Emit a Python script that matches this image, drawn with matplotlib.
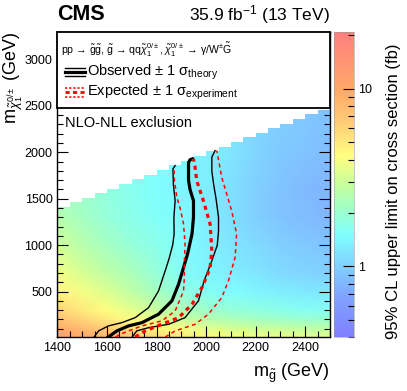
import numpy as np
import matplotlib.pyplot as plt
from matplotlib.colors import LinearSegmentedColormap, LogNorm
from matplotlib.patches import Polygon, Rectangle
from matplotlib.lines import Line2D
from matplotlib.ticker import MultipleLocator, FixedLocator

plt.rcParams['font.family'] = 'Liberation Sans'
plt.rcParams['mathtext.fontset'] = 'custom'
plt.rcParams['mathtext.rm'] = 'Liberation Sans'
plt.rcParams['mathtext.it'] = 'Liberation Sans:italic'
plt.rcParams['mathtext.bf'] = 'Liberation Sans:bold'

# limit map (fb)
m_gluino = np.array([1400, 1500, 1600, 1700, 1800, 1900, 2000, 2100, 2200, 2300, 2400, 2500])
m_chi = np.array([0, 100, 200, 300, 500, 700, 1000, 1300, 1600, 2000, 2500])
xsec_limit = np.array([
    [12.0, 10.0, 8.5, 7.0, 6.0, 5.0, 4.5, 4.2, 4.0, 3.8, 3.6, 3.5],
    [9.5, 8.0, 6.5, 5.5, 4.5, 4.0, 3.5, 3.2, 3.0, 2.9, 2.8, 2.7],
    [7.5, 6.0, 5.0, 4.2, 3.5, 3.0, 2.6, 2.4, 2.2, 2.1, 2.0, 2.0],
    [6.0, 5.0, 4.2, 3.5, 2.9, 2.4, 2.1, 1.9, 1.8, 1.7, 1.6, 1.6],
    [4.6, 3.9, 3.3, 2.7, 2.2, 1.8, 1.6, 1.5, 1.4, 1.3, 1.25, 1.2],
    [3.9, 3.2, 2.7, 2.3, 1.9, 1.6, 1.4, 1.3, 1.2, 1.1, 1.05, 1.0],
    [3.1, 2.6, 2.2, 1.9, 1.7, 1.5, 1.35, 1.2, 1.1, 1.0, 0.95, 0.9],
    [2.5, 2.2, 1.9, 1.7, 1.55, 1.45, 1.3, 1.15, 1.0, 0.9, 0.85, 0.8],
    [2.2, 2.0, 1.8, 1.65, 1.5, 1.4, 1.3, 1.15, 1.0, 0.9, 0.82, 0.8],
    [2.2, 2.0, 1.8, 1.6, 1.5, 1.4, 1.3, 1.2, 1.05, 0.95, 0.9, 0.85],
    [2.2, 2.0, 1.8, 1.6, 1.5, 1.4, 1.3, 1.2, 1.1, 1.0, 0.95, 0.9],
])
bin_width = 50
diag_offset = 10

# exclusion contours (m_gluino, m_chi)
obs_x = [1605, 1640, 1687, 1741, 1808, 1862, 1889, 1905, 1925, 1943, 1949, 1949, 1935, 1929, 1929, 1935, 1945]
obs_y = [10, 76, 130, 165, 256, 400, 580, 724, 904, 1120, 1300, 1479, 1600, 1700, 1890, 1920, 1930]
obs_m1_x = [1548, 1566, 1606, 1660, 1714, 1768, 1808, 1835, 1850, 1865, 1871, 1870, 1875, 1868, 1866, 1875]
obs_m1_y = [10, 76, 130, 165, 219, 327, 507, 724, 850, 1000, 1120, 1300, 1479, 1650, 1821, 1857]
obs_p1_x = [1702, 1720, 1768, 1849, 1915, 1969, 1992, 2023, 2045, 2050, 2050, 2040, 2030, 2023, 2023, 2036]
obs_p1_y = [10, 76, 111, 148, 219, 400, 615, 832, 1000, 1150, 1299, 1500, 1659, 1800, 1948, 2019]
exp_x = [1714, 1754, 1821, 1889, 1943, 1983, 2005, 2016, 2023, 2016, 1989, 1962, 1955, 1949]
exp_y = [10, 76, 148, 219, 363, 543, 680, 759, 940, 1227, 1479, 1695, 1850, 1930]
exp_m1_x = [1635, 1653, 1687, 1741, 1821, 1875, 1909, 1912, 1912, 1915, 1909, 1895, 1882, 1872, 1870]
exp_m1_y = [10, 40, 76, 130, 184, 291, 507, 650, 796, 1011, 1227, 1400, 1515, 1700, 1840]
exp_p1_x = [1835, 1875, 1956, 2009, 2063, 2090, 2117, 2123, 2103, 2063, 2043]
exp_p1_y = [10, 76, 148, 256, 435, 615, 868, 1120, 1371, 1731, 2019]

# palette anchors (value, colour)
pal_vals = [0.4, 0.65, 1.0, 1.5, 2.1, 3.0, 4.2, 6.5, 10.0, 21.0]
pal_cols = ['#8080ff', '#80a0ff', '#80d0ff', '#80ffff', '#a0ffc8', '#ccff99',
            '#ffff80', '#ffcc78', '#ffa868', '#ff7f7f']
zmin, zmax = 0.4, 21.0


def main():
    pos = (np.log(pal_vals) - np.log(zmin)) / (np.log(zmax) - np.log(zmin))
    cmap = LinearSegmentedColormap.from_list('cms', list(zip(pos, pal_cols)))
    norm = LogNorm(zmin, zmax)

    fig = plt.figure(figsize=(4.07, 3.91), dpi=100)
    ax = fig.add_axes([0.141, 0.138, 0.670, 0.781])
    cax = fig.add_axes([0.820, 0.138, 0.049, 0.781])

    mesh = ax.pcolormesh(m_gluino, m_chi, xsec_limit, cmap=cmap, norm=norm,
                         shading='gouraud', zorder=1)
    # staircase edge of the scanned grid
    cols = np.arange(m_gluino[0], m_gluino[-1], bin_width)
    verts = [(cols[0], m_chi[0])]
    for c in cols:
        verts += [(c, c + diag_offset), (c + bin_width, c + diag_offset)]
    verts += [(m_gluino[-1], m_chi[0])]
    clip = Polygon(verts, closed=True, transform=ax.transData)
    mesh.set_clip_path(clip)

    ax.plot(obs_m1_x, obs_m1_y, color='k', lw=1.0, zorder=3)
    ax.plot(obs_p1_x, obs_p1_y, color='k', lw=1.0, zorder=3)
    ax.plot(obs_x, obs_y, color='k', lw=2.3, zorder=3)
    ax.plot(exp_m1_x, exp_m1_y, color='red', lw=1.1, dashes=(2.6, 2.2), zorder=3)
    ax.plot(exp_p1_x, exp_p1_y, color='red', lw=1.1, dashes=(2.6, 2.2), zorder=3)
    ax.plot(exp_x, exp_y, color='red', lw=2.3, dashes=(1.3, 1.3), zorder=3)

    ax.set_xlim(1400, 2500)
    ax.set_ylim(10, 3300)
    ax.xaxis.set_major_locator(MultipleLocator(200))
    ax.xaxis.set_minor_locator(MultipleLocator(50))
    ax.yaxis.set_major_locator(MultipleLocator(500))
    ax.yaxis.set_minor_locator(MultipleLocator(100))
    ax.tick_params(which='both', direction='in', top=True, right=True, labelsize=9)
    ax.tick_params(which='major', length=8, width=0.8, pad=3.5)
    ax.tick_params(which='minor', length=4, width=0.8)
    for s in ax.spines.values():
        s.set_linewidth(1.0)

    ax.set_xlabel(r'$\mathrm{m}_{\tilde{\mathrm{g}}}$ (GeV)', fontsize=13, loc='right', labelpad=6)
    ax.set_ylabel(r'$\mathrm{m}_{\tilde{\chi}^{0/\pm}_{1}}$ (GeV)', fontsize=13, loc='top')
    ax.yaxis.set_label_coords(-0.118, 1.0)

    # legend box
    ax.add_patch(Rectangle((0, 0.75), 1, 0.25, transform=ax.transAxes, facecolor='white',
                           edgecolor='black', lw=1.3, zorder=5, clip_on=False))
    ax.text(0.013, 0.94, r'pp → $\tilde{\mathrm{g}}\tilde{\mathrm{g}}$, $\tilde{\mathrm{g}}$ → '
            r'qq$\tilde{\chi}^{0/\pm}_{1}$, $\tilde{\chi}^{0/\pm}_{1}$ → γ/W$^{\pm}\tilde{\mathrm{G}}$',
            transform=ax.transAxes, fontsize=7.6, va='center', zorder=6)
    for yy, lw in [(0.880, 1.0), (0.868, 2.3), (0.855, 1.0)]:
        ax.add_line(Line2D([0.028, 0.101], [yy, yy], transform=ax.transAxes, color='k', lw=lw, zorder=6))
    for yy, lw in [(0.815, 1.1), (0.801, 2.0), (0.787, 1.1)]:
        ax.add_line(Line2D([0.028, 0.101], [yy, yy], transform=ax.transAxes, color='red', lw=lw,
                           dashes=(1.5, 1.2), zorder=6))
    ax.text(0.109, 0.868, r'Observed $\pm$ 1 $\mathrm{\sigma}_{\mathrm{theory}}$', transform=ax.transAxes,
            fontsize=10.5, va='center', zorder=6)
    ax.text(0.109, 0.801, r'Expected $\pm$ 1 $\mathrm{\sigma}_{\mathrm{experiment}}$', transform=ax.transAxes,
            fontsize=10.5, va='center', zorder=6)
    ax.text(0.028, 0.70, 'NLO-NLL exclusion', transform=ax.transAxes, fontsize=10.5, va='center', zorder=6)

    cb = fig.colorbar(mesh, cax=cax)
    cb.outline.set_linewidth(0.4)
    cb.outline.set_edgecolor('#999999')
    cax.yaxis.set_major_locator(FixedLocator([1, 10]))
    cax.set_yticklabels(['1', '10'])
    cax.tick_params(which='both', direction='in', labelsize=9, pad=3)
    cax.tick_params(which='major', length=8, width=0.8)
    cax.tick_params(which='minor', length=4, width=0.8)
    fig.text(0.966, 0.51, '95% CL upper limit on cross section (fb)', rotation=90,
             ha='center', va='center', fontsize=12)

    fig.text(0.141, 0.962, 'CMS', fontsize=15.5, fontweight='bold', va='center')
    fig.text(0.811, 0.962, r'35.9 fb$^{\mathrm{-1}}$ (13 TeV)', fontsize=12.5, va='center', ha='right')

    fig.savefig('out.png', dpi=100)


if __name__ == "__main__":
    main()
